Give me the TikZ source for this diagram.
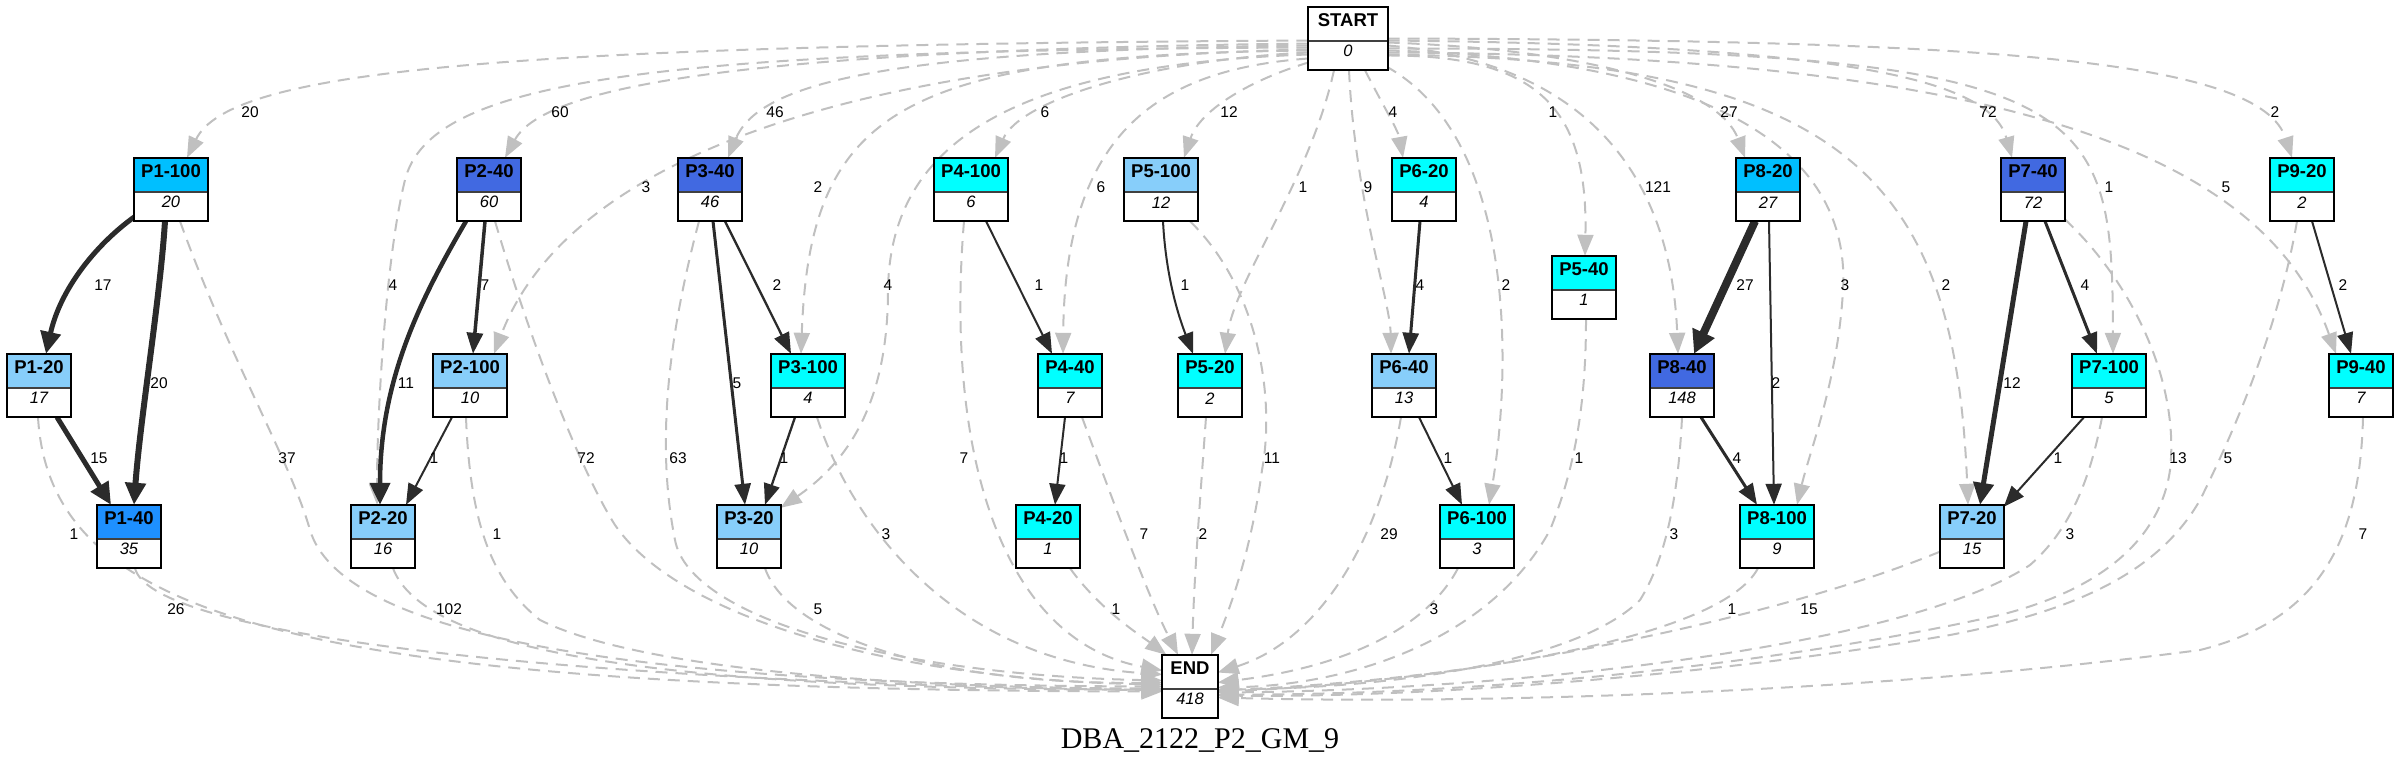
\documentclass[tikz,border=0pt]{standalone}
\usepackage{fontspec}
\setmainfont{Liberation Sans}
\newfontfamily\serifx{Liberation Serif}
\usetikzlibrary{arrows.meta,calc,backgrounds}
\definecolor{cDeep}{HTML}{00BFFF}
\definecolor{cRoyal}{HTML}{4169E1}
\definecolor{cCyan}{HTML}{00FFFF}
\definecolor{cLight}{HTML}{87CEFA}
\definecolor{cDodger}{HTML}{1E90FF}
\definecolor{cEdge}{HTML}{2B2B2B}
\definecolor{cDash}{HTML}{C0C0C0}
\tikzset{
  gbox/.style={rectangle, inner sep=0pt, minimum height=63pt},
  hdr/.style={font=\fontsize{18.5}{20}\selectfont\bfseries, inner sep=0pt},
  val/.style={font=\fontsize{16.5}{18}\selectfont\itshape, inner sep=0pt},
  lbl/.style={font=\fontsize{15.5}{17}\selectfont, inner sep=0pt},
  dedge/.style={draw=cDash, line width=2pt, dash pattern=on 12pt off 8pt, -{Triangle[length=21pt,width=16pt]}},
  sedge/.style={draw=cEdge, -{Triangle[length=21pt,width=16pt]}},
  bigtip/.style={-{Triangle[length=22pt,width=20pt]}},
  hugetip/.style={-{Triangle[length=23pt,width=23pt]}},
}
\newcommand{\gnode}[7]{%
  \node[gbox, minimum width=#4pt] (#1) at (#2,#3+31.5) {};
  \fill[white] (#1.north west) rectangle (#1.south east);
  \fill[#5] (#1.north west) rectangle ([yshift=-34pt]#1.north east);
  \draw[line width=1.5pt, black!75] ([yshift=-34pt]#1.north west) -- ([yshift=-34pt]#1.north east);
  \draw[line width=2pt] (#1.north west) rectangle (#1.south east);
  \node[hdr] (#1-h) at ([yshift=-13.5pt]#1.north) {#6};
  \node[val] (#1-v) at ([yshift=-44.5pt]#1.north) {#7};
}
\begin{document}
\begin{tikzpicture}[x=1pt,y=-1pt]
\useasboundingbox (0,0) rectangle (2400,771);
% nodes
\gnode{start}{1348}{7}{79}{white}{START}{0}
\gnode{end}{1190}{655}{55}{white}{END}{418}
\gnode{p1-100}{171}{158}{73}{cDeep}{P1-100}{20}
\gnode{p2-40}{489}{158}{63}{cRoyal}{P2-40}{60}
\gnode{p3-40}{710}{158}{63}{cRoyal}{P3-40}{46}
\gnode{p4-100}{971}{158}{73}{cCyan}{P4-100}{6}
\gnode{p5-100}{1161}{158}{73}{cLight}{P5-100}{12}
\gnode{p6-20}{1424}{158}{63}{cCyan}{P6-20}{4}
\gnode{p8-20}{1768}{158}{63}{cDeep}{P8-20}{27}
\gnode{p7-40}{2033}{158}{63}{cRoyal}{P7-40}{72}
\gnode{p9-20}{2302}{158}{63}{cCyan}{P9-20}{2}
\gnode{p5-40}{1584}{256}{63}{cCyan}{P5-40}{1}
\gnode{p1-20}{39}{354}{63}{cLight}{P1-20}{17}
\gnode{p2-100}{470}{354}{73}{cLight}{P2-100}{10}
\gnode{p3-100}{808}{354}{73}{cCyan}{P3-100}{4}
\gnode{p4-40}{1070}{354}{63}{cCyan}{P4-40}{7}
\gnode{p5-20}{1210}{354}{63}{cCyan}{P5-20}{2}
\gnode{p6-40}{1404}{354}{63}{cLight}{P6-40}{13}
\gnode{p8-40}{1682}{354}{63}{cRoyal}{P8-40}{148}
\gnode{p7-100}{2109}{354}{73}{cCyan}{P7-100}{5}
\gnode{p9-40}{2361}{354}{63}{cCyan}{P9-40}{7}
\gnode{p1-40}{129}{505}{63}{cDodger}{P1-40}{35}
\gnode{p2-20}{383}{505}{63}{cLight}{P2-20}{16}
\gnode{p3-20}{749}{505}{63}{cLight}{P3-20}{10}
\gnode{p4-20}{1048}{505}{63}{cCyan}{P4-20}{1}
\gnode{p6-100}{1477}{505}{73}{cCyan}{P6-100}{3}
\gnode{p8-100}{1777}{505}{73}{cCyan}{P8-100}{9}
\gnode{p7-20}{1972}{505}{63}{cLight}{P7-20}{15}
\begin{pgfonlayer}{background}
% START edges
\draw[dedge] ($(start.west)+(0,2)$) .. controls (500,45) and (230,70) .. ($(p1-100.north)+(16,0)$);
\draw[dedge] ($(start.west)+(0,5)$) .. controls (750,50) and (545,85) .. ($(p2-40.north)+(16,0)$);
\draw[dedge] ($(start.west)+(0,9)$) .. controls (650,50) and (430,80) .. (405,180) .. controls (385,260) and (377,420) .. ($(p2-20.north)+(-6,0)$);
\draw[dedge] ($(start.west)+(0,11)$) .. controls (800,60) and (560,180) .. ($(p2-100.north)+(24,0)$);
\draw[dedge] ($(start.west)+(0,7)$) .. controls (900,50) and (760,80) .. ($(p3-40.north)+(18,0)$);
\draw[dedge] ($(start.west)+(0,12)$) .. controls (900,55) and (810,110) .. ($(p3-100.north)+(-7,0)$);
\draw[dedge] ($(start.west)+(0,16)$) .. controls (1000,65) and (890,150) .. (888,290) .. controls (888,400) and (850,460) .. ($(p3-20.north east)+(0,3)$);
\draw[dedge] ($(start.west)+(0,14)$) .. controls (1150,60) and (1020,100) .. ($(p4-100.north)+(24,0)$);
\draw[dedge] ($(start.west)+(0,20)$) .. controls (1150,70) and (1065,140) .. ($(p4-40.north)+(-7,0)$);
\draw[dedge] ($(start.south west)+(1,-8)$) .. controls (1250,80) and (1200,110) .. ($(p5-100.north)+(23,0)$);
\draw[dedge] ($(start.south)+(-14,0)$) .. controls (1310,180) and (1235,280) .. ($(p5-20.north)+(15,0)$);
\draw[dedge] ($(start.south)+(1,0)$) .. controls (1355,200) and (1390,300) .. ($(p6-40.north)+(-13,0)$);
\draw[dedge] ($(start.south)+(17,0)$) .. controls (1380,100) and (1398,130) .. ($(p6-20.north)+(-21,0)$);
\draw[dedge] ($(start.south east)+(-2,-4)$) .. controls (1520,140) and (1510,380) .. ($(p6-100.north)+(12,0)$);
\draw[dedge] ($(start.east)+(0,17)$) .. controls (1540,55) and (1588,110) .. ($(p5-40.north)+(1,0)$);
\draw[dedge] ($(start.east)+(0,7)$) .. controls (1560,60) and (1670,150) .. ($(p8-40.north)+(-4,0)$);
\draw[dedge] ($(start.east)+(0,4)$) .. controls (1600,50) and (1720,90) .. ($(p8-20.north)+(-23,0)$);
\draw[dedge] ($(start.east)+(0,12)$) .. controls (1750,60) and (1850,170) .. (1843,290) .. controls (1838,380) and (1810,450) .. ($(p8-100.north)+(20,0)$);
\draw[dedge] ($(start.east)+(0,16)$) .. controls (1850,60) and (1955,180) .. ($(p7-20.north)+(-4,0)$);
\draw[dedge] ($(start.east)+(0,2)$) .. controls (1850,45) and (1990,80) .. ($(p7-40.north)+(-21,0)$);
\draw[dedge] ($(start.east)+(0,10)$) .. controls (2100,48) and (2112,100) .. ($(p7-100.north)+(4,0)$);
\draw[dedge] ($(start.east)+(0,14)$) .. controls (2050,55) and (2270,170) .. ($(p9-40.north)+(-25,0)$);
\draw[dedge] ($(start.east)+(0,0)$) .. controls (2000,40) and (2260,60) .. ($(p9-20.north)+(-10,0)$);
% solid edges
\draw[sedge, line width=5pt, bigtip] ($(p1-100.south west)+(1,-5)$) .. controls (95,245) and (60,290) .. ($(p1-20.north)+(7,0)$);
\draw[sedge, line width=6pt, bigtip] ($(p1-100.south)+(-6,0)$) .. controls (160,300) and (140,420) .. ($(p1-40.north)+(5,0)$);
\draw[sedge, line width=5pt, bigtip] ($(p1-20.south)+(18,0)$) -- ($(p1-40.north)+(-18,0)$);
\draw[sedge, line width=4.5pt, bigtip] ($(p2-40.south)+(-23,0)$) .. controls (420,300) and (380,380) .. ($(p2-20.north)+(-3,0)$);
\draw[sedge, line width=3.5pt] ($(p2-40.south)+(-4,0)$) -- ($(p2-100.north)+(3,0)$);
\draw[sedge, line width=2pt] ($(p2-100.south)+(-18,0)$) -- ($(p2-20.north)+(23,0)$);
\draw[sedge, line width=3pt] ($(p3-40.south)+(3,0)$) -- ($(p3-20.north)+(-4,0)$);
\draw[sedge, line width=2.3pt] ($(p3-40.south)+(15,0)$) -- ($(p3-100.north)+(-17,0)$);
\draw[sedge, line width=2.3pt] ($(p3-100.south)+(-13,0)$) -- ($(p3-20.north)+(16,0)$);
\draw[sedge, line width=2pt] ($(p4-100.south)+(15,0)$) -- ($(p4-40.north)+(-18,0)$);
\draw[sedge, line width=2pt] ($(p4-40.south)+(-5,0)$) -- ($(p4-20.north)+(7,0)$);
\draw[sedge, line width=2pt] ($(p5-100.south)+(2,0)$) .. controls (1166,280) and (1180,320) .. ($(p5-20.north)+(-17,0)$);
\draw[sedge, line width=3pt] ($(p6-20.south)+(-4,0)$) -- ($(p6-40.north)+(5,0)$);
\draw[sedge, line width=2pt] ($(p6-40.south)+(15,0)$) -- ($(p6-100.north)+(-15,0)$);
\draw[sedge, line width=8pt, hugetip] ($(p8-20.south)+(-13,0)$) -- ($(p8-40.north)+(12,0)$);
\draw[sedge, line width=2pt] ($(p8-20.south)+(1,0)$) -- ($(p8-100.north)+(-3,0)$);
\draw[sedge, line width=3pt] ($(p8-40.south)+(19,0)$) -- ($(p8-100.north)+(-20,0)$);
\draw[sedge, line width=5pt, bigtip] ($(p7-40.south)+(-7,0)$) -- ($(p7-20.north)+(8,0)$);
\draw[sedge, line width=3pt] ($(p7-40.south)+(12,0)$) -- ($(p7-100.north)+(-12,0)$);
\draw[sedge, line width=2pt] ($(p7-100.south)+(-25,0)$) -- ($(p7-20.north east)+(0,2)$);
\draw[sedge, line width=2pt] ($(p9-20.south)+(10,0)$) -- ($(p9-40.north)+(-10,0)$);
% edges to END
\draw[dedge] ($(p1-100.south)+(9,0)$) .. controls (230,360) and (290,460) .. (310,530) .. controls (340,630) and (600,685) .. ($(end.west)+(0,0)$);
\draw[dedge] ($(p1-20.south)+(-1,0)$) .. controls (50,620) and (300,690) .. ($(end.west)+(0,5)$);
\draw[dedge] ($(p1-40.south)+(6,0)$) .. controls (150,630) and (500,680) .. ($(end.west)+(0,4)$);
\draw[dedge] ($(p2-40.south)+(6,0)$) .. controls (530,340) and (580,470) .. (615,525) .. controls (680,620) and (900,680) .. ($(end.west)+(0,-2)$);
\draw[dedge] ($(p2-100.south)+(-4,0)$) .. controls (470,520) and (490,580) .. (540,620) .. controls (640,670) and (900,688) .. ($(end.west)+(0,2)$);
\draw[dedge] ($(p2-20.south)+(10,0)$) .. controls (420,640) and (600,690) .. ($(end.west)+(0,3)$);
\draw[dedge] ($(p3-40.south)+(-11,0)$) .. controls (670,330) and (655,440) .. (675,540) .. controls (690,620) and (900,675) .. ($(end.west)+(0,-6)$);
\draw[dedge] ($(p3-20.south)+(16,0)$) .. controls (790,640) and (950,685) .. ($(end.west)+(0,-4)$);
\draw[dedge] ($(p3-100.south)+(9,0)$) .. controls (850,520) and (950,660) .. ($(end.west)+(0,-12)$);
\draw[dedge] ($(p4-100.south)+(-7,0)$) .. controls (945,450) and (1000,640) .. ($(end.west)+(0,-16)$);
\draw[dedge] ($(p4-40.south)+(12,0)$) .. controls (1120,520) and (1150,600) .. ($(end.north)+(-12,0)$);
\draw[dedge] ($(p4-20.south)+(22,0)$) .. controls (1100,610) and (1140,635) .. ($(end.north west)+(4,0)$);
\draw[dedge] ($(p5-20.south)+(-4,0)$) .. controls (1200,500) and (1194,580) .. ($(end.north)+(2,0)$);
\draw[dedge] ($(p5-100.south)+(29,0)$) .. controls (1260,290) and (1275,400) .. (1262,470) .. controls (1250,560) and (1225,620) .. ($(end.north)+(21,0)$);
\draw[dedge] ($(p6-40.south)+(-3,0)$) .. controls (1380,540) and (1320,640) .. ($(end.east)+(0,-14)$);
\draw[dedge] ($(p6-100.south)+(-19,0)$) .. controls (1420,640) and (1320,670) .. ($(end.east)+(0,-4)$);
\draw[dedge] ($(p5-40.south)+(2,0)$) .. controls (1586,420) and (1570,480) .. (1550,530) .. controls (1490,640) and (1350,685) .. ($(end.east)+(0,1)$);
\draw[dedge] ($(p8-40.south)+(0,0)$) .. controls (1678,500) and (1665,560) .. (1640,600) .. controls (1580,660) and (1400,688) .. ($(end.east)+(0,3)$);
\draw[dedge] ($(p8-100.south)+(-19,0)$) .. controls (1720,640) and (1450,680) .. ($(end.east)+(0,4)$);
\draw[dedge] ($(p7-20.west)+(0,15)$) .. controls (1800,610) and (1500,680) .. ($(end.east)+(0,5)$);
\draw[dedge] ($(p7-100.south)+(-7,0)$) .. controls (2090,480) and (2070,530) .. (2030,565) .. controls (1900,650) and (1500,690) .. ($(end.east)+(0,6)$);
\draw[dedge] ($(p7-40.south east)+(0,-2)$) .. controls (2130,280) and (2180,380) .. (2170,470) .. controls (2160,540) and (2100,590) .. (2000,615) .. controls (1800,660) and (1500,695) .. ($(end.east)+(0,8)$);
\draw[dedge] ($(p9-20.south)+(-5,0)$) .. controls (2280,320) and (2240,420) .. (2200,500) .. controls (2160,570) and (2080,610) .. (1950,635) .. controls (1750,670) and (1450,698) .. ($(end.east)+(0,9)$);
\draw[dedge] ($(p9-40.south)+(2,0)$) .. controls (2360,540) and (2320,620) .. (2200,650) .. controls (1900,690) and (1500,705) .. ($(end.east)+(0,11)$);
\end{pgfonlayer}
% START edge labels
\node[lbl] (ls1) at (250,112) {20};
\node[lbl] (ls2) at (560,112) {60};
\node[lbl] (ls3) at (393,285) {4};
\node[lbl] (ls4) at (646,187) {3};
\node[lbl] (ls5) at (775,112) {46};
\node[lbl] (ls6) at (818,187) {2};
\node[lbl] (ls7) at (888,285) {4};
\node[lbl] (ls8) at (1045,112) {6};
\node[lbl] (ls9) at (1101,187) {6};
\node[lbl] (ls10) at (1229,112) {12};
\node[lbl] (ls11) at (1303,187) {1};
\node[lbl] (ls12) at (1368,187) {9};
\node[lbl] (ls13) at (1393,112) {4};
\node[lbl] (ls14) at (1506,285) {2};
\node[lbl] (ls15) at (1553,112) {1};
\node[lbl] (ls16) at (1658,187) {121};
\node[lbl] (ls17) at (1729,112) {27};
\node[lbl] (ls18) at (1845,285) {3};
\node[lbl] (ls19) at (1946,285) {2};
\node[lbl] (ls20) at (1988,112) {72};
\node[lbl] (ls21) at (2109,187) {1};
\node[lbl] (ls22) at (2226,187) {5};
\node[lbl] (ls23) at (2275,112) {2};
% solid edge labels
\node[lbl] (lp1) at (103,285) {17};
\node[lbl] (lp2) at (159,383) {20};
\node[lbl] (lp3) at (99,458) {15};
\node[lbl] (lp4) at (406,383) {11};
\node[lbl] (lp5) at (485,285) {7};
\node[lbl] (lp6) at (434,458) {1};
\node[lbl] (lp7) at (737,383) {5};
\node[lbl] (lp8) at (777,285) {2};
\node[lbl] (lp9) at (784,458) {1};
\node[lbl] (lp10) at (1039,285) {1};
\node[lbl] (lp11) at (1064,458) {1};
\node[lbl] (lp12) at (1185,285) {1};
\node[lbl] (lp13) at (1420,285) {4};
\node[lbl] (lp14) at (1448,458) {1};
\node[lbl] (lp15) at (1745,285) {27};
\node[lbl] (lp16) at (1776,383) {2};
\node[lbl] (lp17) at (1737,458) {4};
\node[lbl] (lp18) at (2012,383) {12};
\node[lbl] (lp19) at (2085,285) {4};
\node[lbl] (lp20) at (2058,458) {1};
\node[lbl] (lp21) at (2343,285) {2};
% END edge labels
\node[lbl] (le1) at (287,458) {37};
\node[lbl] (le2) at (74,534) {1};
\node[lbl] (le3) at (176,609) {26};
\node[lbl] (le4) at (586,458) {72};
\node[lbl] (le5) at (497,534) {1};
\node[lbl] (le6) at (449,609) {102};
\node[lbl] (le7) at (678,458) {63};
\node[lbl] (le8) at (886,534) {3};
\node[lbl] (le9) at (818,609) {5};
\node[lbl] (le10) at (964,458) {7};
\node[lbl] (le11) at (1144,534) {7};
\node[lbl] (le12) at (1116,609) {1};
\node[lbl] (le13) at (1272,458) {11};
\node[lbl] (le14) at (1203,534) {2};
\node[lbl] (le15) at (1389,534) {29};
\node[lbl] (le16) at (1434,609) {3};
\node[lbl] (le17) at (1579,458) {1};
\node[lbl] (le18) at (1674,534) {3};
\node[lbl] (le19) at (1732,609) {1};
\node[lbl] (le20) at (1809,609) {15};
\node[lbl] (le21) at (2070,534) {3};
\node[lbl] (le22) at (2178,458) {13};
\node[lbl] (le23) at (2228,458) {5};
\node[lbl] (le24) at (2363,534) {7};
% title
\node[font=\serifx\fontsize{30}{32}\selectfont, inner sep=0pt, anchor=base] (title) at (1200,748) {DBA\_2122\_P2\_GM\_9};
\end{tikzpicture}
\end{document}
